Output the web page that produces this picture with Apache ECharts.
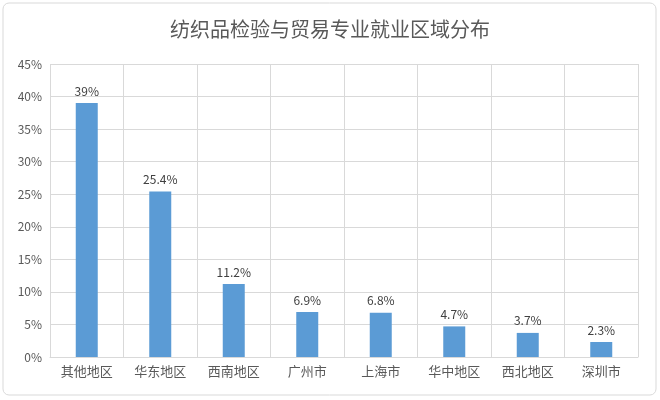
<!DOCTYPE html>
<html><head><meta charset="utf-8">
<script src="https://cdn.jsdelivr.net/npm/echarts@6/dist/echarts.min.js"></script>
<style>html,body{margin:0;padding:0;background:#fff}#c{width:660px;height:400px}</style>
</head><body><div id="c"></div>
<script>
const categories = ['其他地区','华东地区','西南地区','广州市','上海市','华中地区','西北地区','深圳市'];
const values = [39, 25.4, 11.2, 6.9, 6.8, 4.7, 3.7, 2.3];
const title = '纺织品检验与贸易专业就业区域分布';
const chart = echarts.init(document.getElementById('c'));
const font = '"Microsoft YaHei","Noto Sans CJK SC",sans-serif';
chart.setOption({
  animation:false,
  graphic:[{type:'rect',shape:{x:3,y:3,width:653,height:392,r:6},style:{fill:'none',stroke:'#d9d9d9',lineWidth:1}}],
  title:{text:title,left:'center',top:14,textStyle:{fontFamily:font,fontSize:20,fontWeight:'normal',color:'#595959'}},
  grid:{left:50,right:22,top:64,bottom:43},
  xAxis:{type:'category',data:categories,
    axisLine:{lineStyle:{color:'#d9d9d9'}},axisTick:{show:false},
    splitLine:{show:true,lineStyle:{color:'#d9d9d9'}},
    axisLabel:{color:'#595959',fontSize:13,fontFamily:font,margin:8}},
  yAxis:{type:'value',min:0,max:45,interval:5,
    axisLabel:{formatter:'{value}%',color:'#595959',fontSize:12,fontFamily:font},
    axisLine:{show:false},axisTick:{show:false},
    splitLine:{lineStyle:{color:'#d9d9d9'}}},
  series:[{type:'bar',data:values,barWidth:22,itemStyle:{color:'#5b9bd5'},
    label:{show:true,position:'top',formatter:'{c}%',color:'#404040',fontSize:12,fontFamily:font,distance:6}}]
});
</script></body></html>
